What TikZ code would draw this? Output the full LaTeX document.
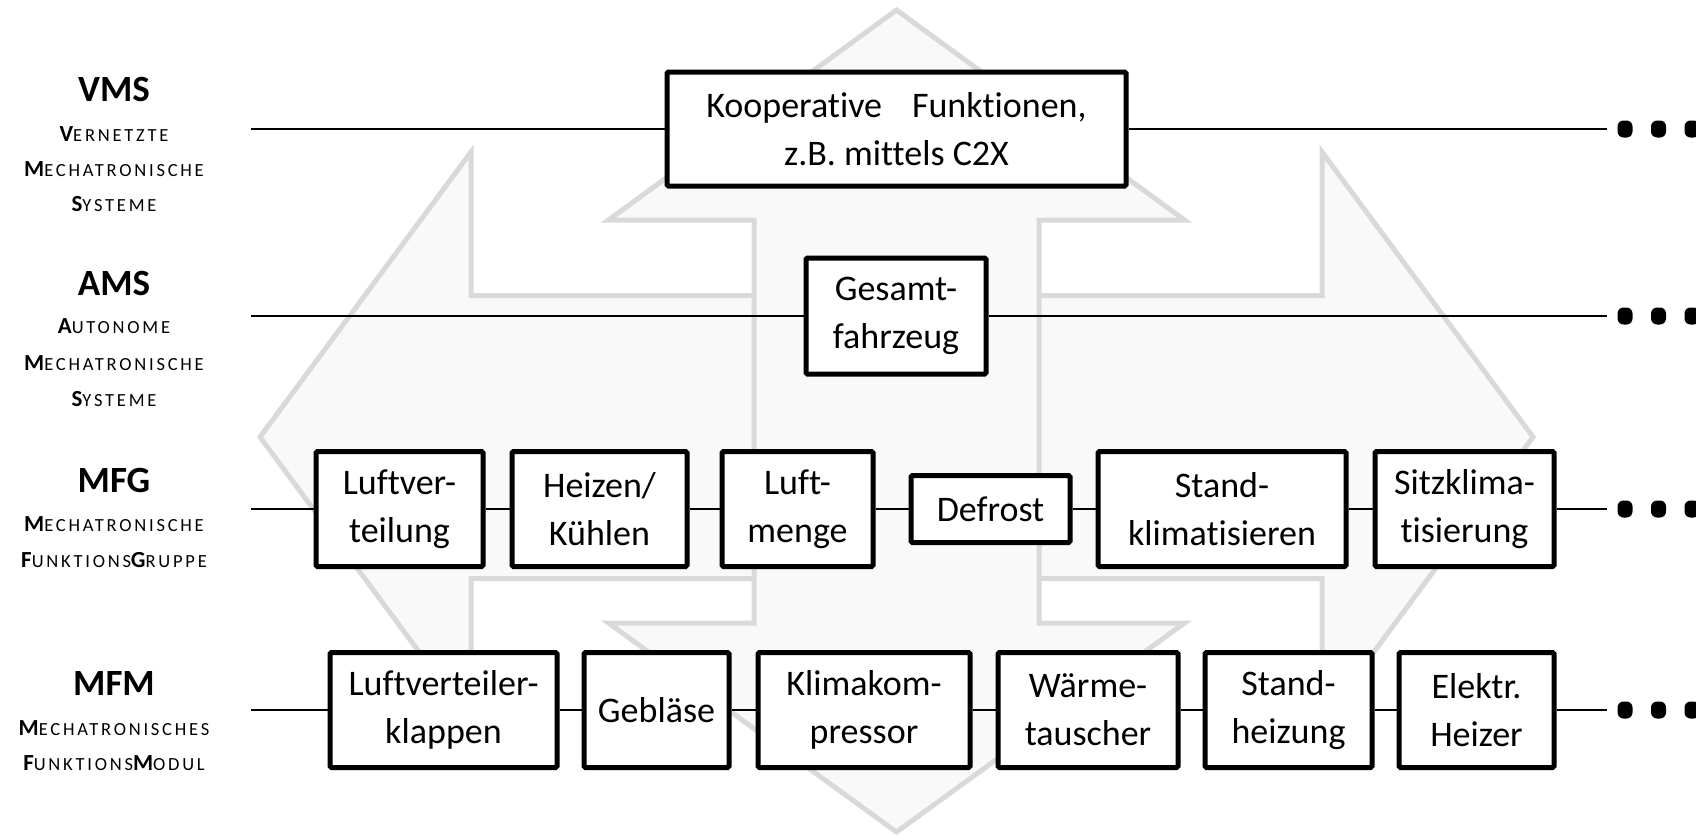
\documentclass[tikz,border=0pt]{standalone}
\usepackage{fontspec}
\setmainfont{Carlito}[Ligatures=NoCommon]
\definecolor{arrowgray}{RGB}{217,217,217}
\definecolor{arrowfill}{RGB}{249,249,249}
\newcommand{\bigc}[1]{{\fontsize{23}{23}\selectfont\bfseries #1}}
\newcommand{\smc}[1]{{\fontsize{18.5}{18.5}\selectfont\addfontfeature{LetterSpace=15}#1}}
\newcommand{\boxfont}{\fontsize{36}{48}\selectfont}
\newcommand{\titlefont}{\fontsize{37}{37}\selectfont\bfseries}
\begin{document}
\begin{tikzpicture}[x=1pt,y=-1pt,
  bgarrow/.style={draw=arrowgray, fill=arrowfill, line width=5pt},
  box/.style={draw=black, fill=white, line width=5pt, rounded corners=1.5pt, inner sep=0pt, align=center, font=\boxfont, minimum height=115pt},
  conn/.style={line width=2pt},
  ttl/.style={anchor=base, font=\titlefont},
  subl/.style={anchor=base},
  dotbox/.style={fill=black, rounded corners=6pt, minimum width=15pt, minimum height=17pt, inner sep=0pt}]
\useasboundingbox (0,0) rectangle (1696,835);
% background arrows
\draw[bgarrow] (260,437) -- (471,152) -- (471,295.5) -- (1322,295.5) -- (1322,152) -- (1533,437) -- (1322,722) -- (1322,578.5) -- (471,578.5) -- (471,722) -- cycle;
\draw[bgarrow] (896.5,10) -- (1184.5,220) -- (1039,220) -- (1039,623) -- (1184.5,623) -- (896.5,832) -- (608.5,623) -- (754,623) -- (754,220) -- (608.5,220) -- cycle;
% left labels
\node[ttl] (tVMS) at (114,101) {VMS};
\node[subl] (sVMSa) at (114,141) {\bigc{V}\smc{ERNETZTE}};
\node[subl] (sVMSb) at (114,176) {\bigc{M}\smc{ECHATRONISCHE}};
\node[subl] (sVMSc) at (114,211) {\bigc{S}\smc{YSTEME}};
\node[ttl] (tAMS) at (114,295) {AMS};
\node[subl] (sAMSa) at (114,333) {\bigc{A}\smc{UTONOME}};
\node[subl] (sAMSb) at (114,370) {\bigc{M}\smc{ECHATRONISCHE}};
\node[subl] (sAMSc) at (114,406) {\bigc{S}\smc{YSTEME}};
\node[ttl] (tMFG) at (114,492) {MFG};
\node[subl] (sMFGa) at (114,531) {\bigc{M}\smc{ECHATRONISCHE}};
\node[subl] (sMFGb) at (114,567) {\bigc{F}\smc{UNKTIONS}\bigc{G}\smc{RUPPE}};
\node[ttl] (tMFM) at (114,695) {MFM};
\node[subl] (sMFMa) at (114,735) {\bigc{M}\smc{ECHATRONISCHES}};
\node[subl] (sMFMb) at (114,770) {\bigc{F}\smc{UNKTIONS}\bigc{M}\smc{ODUL}};
% VMS row
\node[box, minimum width=459pt, minimum height=114pt] (koop) at (896.5,129) {Kooperative\hspace*{30pt}Funktionen,\\z.B. mittels C2X};
% AMS row
\node[box, minimum width=180pt, minimum height=116pt] (ges) at (896,316) {Gesamt-\\fahrzeug};
% MFG row
\node[box, minimum width=167pt] (lv) at (399.5,509) {Luftver-\\teilung};
\node[box, minimum width=175pt] (hk) at (599.5,509) {Heizen/\\Kühlen};
\node[box, minimum width=151pt] (lm) at (797.5,509) {Luft-\\menge};
\node[box, minimum width=159pt, minimum height=67pt] (df) at (990.5,509) {Defrost};
\node[box, minimum width=248pt] (sk) at (1222,509) {Stand-\\klimatisieren};
\node[box, minimum width=179pt] (sz) at (1464.5,509) {Sitzklima-\\tisierung};
% MFM row
\node[box, minimum width=227pt] (lk) at (443.5,710) {Luftverteiler-\\klappen};
\node[box, minimum width=145pt] (gb) at (656.5,710) {Gebläse};
\node[box, minimum width=212pt] (kk) at (864,710) {Klimakom-\\pressor};
\node[box, minimum width=180pt] (wt) at (1088,710) {Wärme-\\tauscher};
\node[box, minimum width=167pt] (sh) at (1288.5,710) {Stand-\\heizung};
\node[box, minimum width=155pt] (eh) at (1476.5,710) {Elektr.\\Heizer};
% line ends
\coordinate (vS) at (251,129); \coordinate (vE) at (1607,129);
\coordinate (aS) at (251,316); \coordinate (aE) at (1607,316);
\coordinate (gS) at (251,509); \coordinate (gE) at (1607,509);
\coordinate (mS) at (251,710); \coordinate (mE) at (1607,710);
% connectors
\foreach \a/\b in {vS/koop, koop/vE, aS/ges, ges/aE,
  gS/lv, lv/hk, hk/lm, lm/df, df/sk, sk/sz, sz/gE,
  mS/lk, lk/gb, gb/kk, kk/wt, wt/sh, sh/eh, eh/mE}
  \draw[conn] (\a) -- (\b);
% dots
\foreach \r/\y in {v/129, a/316, g/509, m/710} {
  \node[dotbox] (\r D1) at (1625,\y) {};
  \node[dotbox] (\r D2) at (1658.5,\y) {};
  \node[dotbox] (\r D3) at (1692,\y) {};
}
\end{tikzpicture}
\end{document}
